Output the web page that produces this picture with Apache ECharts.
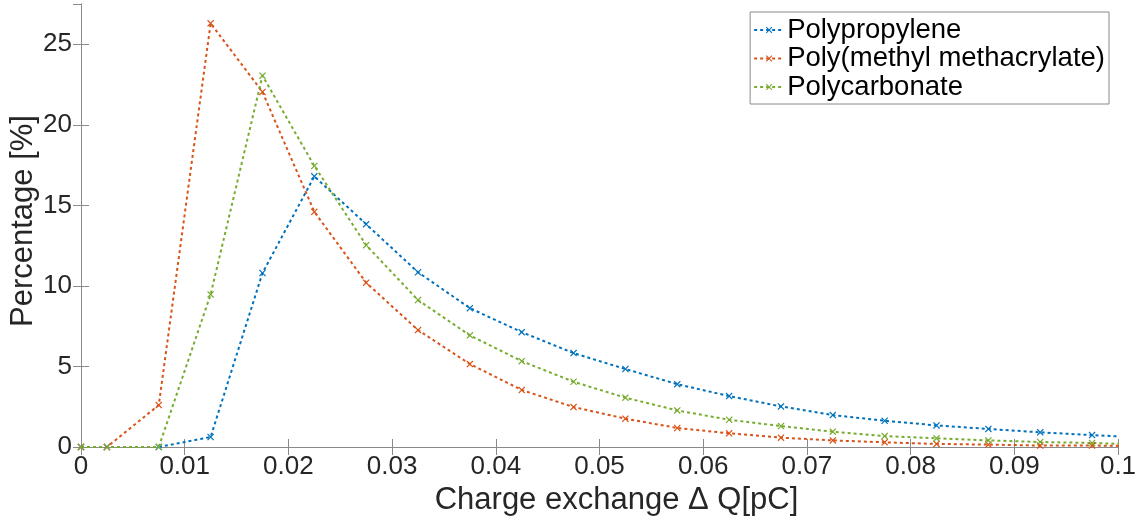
<!DOCTYPE html>
<html>
<head>
<meta charset="utf-8">
<script src="https://cdn.jsdelivr.net/npm/echarts@6/dist/echarts.min.js"></script>
<style>
html,body{margin:0;padding:0;background:#fff;}
#chart{width:1143px;height:518px;}
</style>
</head>
<body>
<div id="chart"></div>
<script>
// Data
var xValues = [0, 0.0025, 0.0075, 0.0125, 0.0175, 0.0225, 0.0275, 0.0325, 0.0375, 0.0425, 0.0475, 0.0525, 0.0575, 0.0625, 0.0675, 0.0725, 0.0775, 0.0825, 0.0875, 0.0925, 0.0975, 0.1025];
var polypropylene = [0, 0, 0, 0.62, 10.8, 16.8, 13.83, 10.85, 8.62, 7.13, 5.83, 4.84, 3.9, 3.16, 2.52, 1.98, 1.63, 1.34, 1.12, 0.91, 0.74, 0.58];
var pmma = [0, 0, 2.6, 26.3, 22.04, 14.6, 10.2, 7.26, 5.15, 3.54, 2.48, 1.76, 1.18, 0.85, 0.58, 0.41, 0.29, 0.19, 0.15, 0.09, 0.09, 0.05];
var polycarbonate = [0, 0, 0, 9.47, 23.05, 17.45, 12.53, 9.12, 6.93, 5.33, 4.05, 3.06, 2.27, 1.69, 1.3, 0.95, 0.68, 0.54, 0.41, 0.31, 0.25, 0.15];
var seriesNames = ['Polypropylene', 'Poly(methyl methacrylate)', 'Polycarbonate'];
var colors = ['#0072BD', '#D95319', '#77AC30'];

function zip(ys) { return xValues.map(function (x, i) { return [x, ys[i]]; }); }

var xMark = 'path://M0,1.2L1.2,0L5,3.8L8.8,0L10,1.2L6.2,5L10,8.8L8.8,10L5,6.2L1.2,10L0,8.8L3.8,5Z';
var font = '"Liberation Sans", Arial, Helvetica, sans-serif';
var axisGray = '#8a8a8a';
var textColor = '#262626';

function mkSeries(name, ys, c) {
  return {
    name: name, type: 'line', data: zip(ys), clip: true,
    symbol: xMark, symbolSize: 7, showSymbol: true,
    lineStyle: { color: c, width: 2, type: [3, 3] },
    itemStyle: { color: c },
    emphasis: { disabled: true }, animation: false
  };
}

var chart = echarts.init(document.getElementById('chart'), null, { renderer: 'canvas' });
chart.setOption({
  backgroundColor: '#ffffff',
  animation: false,
  grid: { left: 81, right: 25, top: 4, bottom: 71, containLabel: false, outerBoundsMode: 'none' },
  legend: {
    data: seriesNames,
    orient: 'vertical', right: 34, top: 12,
    backgroundColor: '#fff', borderColor: '#8a8a8a', borderWidth: 1,
    padding: [4, 4, 3, 3], itemGap: 0.5,
    itemWidth: 30, itemHeight: 8,
    textStyle: { fontFamily: font, fontSize: 27.5, color: '#000', padding: [0, 0, 0, -2] },
    selectedMode: false
  },
  xAxis: [{
    type: 'value', min: 0, max: 0.1, interval: 0.01,
    name: 'Charge exchange \u0394 Q[pC]', nameLocation: 'middle', nameGap: 32,
    nameTextStyle: { fontFamily: font, fontSize: 31, color: textColor, padding: [0, 0, 0, 34] },
    axisLine: { show: true, onZero: false, lineStyle: { color: axisGray, width: 1 } },
    axisTick: { show: true, inside: true, length: 8, lineStyle: { color: axisGray } },
    axisLabel: { fontFamily: font, fontSize: 26, color: textColor, margin: 7 },
    splitLine: { show: false }
  }, {
    type: 'value', position: 'top', min: 0, max: 0.1, interval: 0.01,
    axisLine: { show: true, lineStyle: { color: axisGray, width: 1 } },
    axisTick: { show: true, inside: true, length: 8, lineStyle: { color: axisGray } },
    axisLabel: { show: false }, splitLine: { show: false }
  }],
  yAxis: [{
    type: 'value', min: 0, max: 27.5, interval: 5,
    name: 'Percentage [%]', nameLocation: 'middle', nameGap: 42, nameRotate: 90,
    nameMoveOverlap: false,
    nameTextStyle: { fontFamily: font, fontSize: 31, color: textColor, padding: [0, 0, 0, 9] },
    axisLine: { show: true, lineStyle: { color: axisGray, width: 1 } },
    axisTick: { show: true, inside: true, length: 8, lineStyle: { color: axisGray } },
    axisLabel: { fontFamily: font, fontSize: 26, color: textColor, margin: 9, showMaxLabel: false },
    splitLine: { show: false }
  }, {
    type: 'value', position: 'right', min: 0, max: 27.5, interval: 5,
    axisLine: { show: true, lineStyle: { color: axisGray, width: 1 } },
    axisTick: { show: true, inside: true, length: 8, lineStyle: { color: axisGray } },
    axisLabel: { show: false }, splitLine: { show: false }
  }],
  series: [
    mkSeries(seriesNames[0], polypropylene, colors[0]),
    mkSeries(seriesNames[1], pmma, colors[1]),
    mkSeries(seriesNames[2], polycarbonate, colors[2])
  ]
});
</script>
</body>
</html>
